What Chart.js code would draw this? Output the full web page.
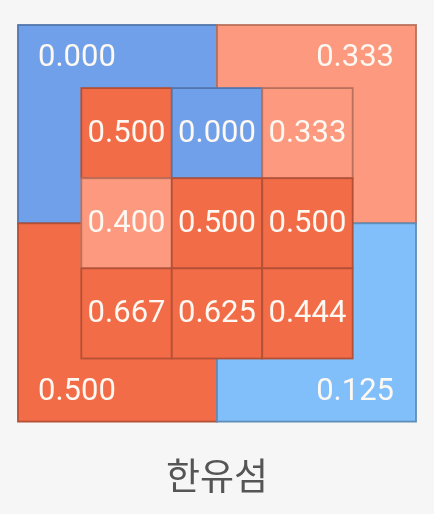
<!DOCTYPE html>
<html>
<head>
<meta charset="utf-8">
<script src="https://cdn.jsdelivr.net/npm/chart.js@4"></script>
<style>
html,body{margin:0;padding:0;background:#f6f6f6;}
#wrap{width:434px;height:514px;position:relative;}
</style>
</head>
<body>
<div id="wrap"><canvas id="c"></canvas></div>
<script>
// ---- data ----
const playerName = "한유섬";
// outer zones: top-left, top-right, bottom-left, bottom-right
const outerLabels = ["TL", "TR", "BL", "BR"];
const outerValues = [0.000, 0.333, 0.500, 0.125];
// inner 3x3 zone rows (top to bottom), columns (left to right)
const innerRow1 = [0.500, 0.000, 0.333];
const innerRow2 = [0.400, 0.500, 0.500];
const innerRow3 = [0.667, 0.625, 0.444];
const innerRows = [innerRow1, innerRow2, innerRow3];

// ---- colour mapping ----
function fillFor(v){
  if (v < 0.1) return [111,160,233];
  if (v < 0.2) return [128,191,250];
  if (v < 0.42) return [252,153,126];
  return [243,108,72];
}
function rgb(c, k){ k = k||1; return `rgb(${Math.round(c[0]*k)},${Math.round(c[1]*k)},${Math.round(c[2]*k)})`; }

// zone geometry in zone units (inner zone spans 0..3)
const OUT_MIN = -0.7, OUT_MAX = 3.7, MID = 1.5;
const outerRects = [
  [OUT_MIN, MID, OUT_MIN, MID],
  [MID, OUT_MAX, OUT_MIN, MID],
  [OUT_MIN, MID, MID, OUT_MAX],
  [MID, OUT_MAX, MID, OUT_MAX]
];

const zonePlugin = {
  id: 'zones',
  beforeDatasetsDraw(chart){
    const {ctx, scales:{x, y}} = chart;
    ctx.save();
    const font = '400 31px Roboto, "Liberation Sans", sans-serif';
    function rect(x0,x1,y0,y1,v){
      const px0 = x.getPixelForValue(x0), px1 = x.getPixelForValue(x1);
      const py0 = y.getPixelForValue(y0), py1 = y.getPixelForValue(y1);
      const c = fillFor(v);
      ctx.fillStyle = rgb(c);
      ctx.fillRect(px0, py0, px1-px0, py1-py0);
      ctx.strokeStyle = rgb(c, 0.74);
      ctx.lineWidth = 1.8;
      ctx.strokeRect(px0, py0, px1-px0, py1-py0);
      return [px0,px1,py0,py1];
    }
    ctx.font = font;
    // outer zones
    const oBoxes = outerRects.map((r,i)=>rect(r[0],r[1],r[2],r[3],outerValues[i]));
    ctx.textBaseline = 'middle';
    oBoxes.forEach((b,i)=>{
      ctx.fillStyle = '#fdf8f2';
      const txt = outerValues[i].toFixed(3);
      const top = i < 2;
      const left = (i % 2) === 0;
      const ty = top ? b[2] + 33 : b[3] - 29;
      if (left){ ctx.textAlign = 'left'; ctx.fillText(txt, b[0] + 20, ty); }
      else { ctx.textAlign = 'right'; ctx.fillText(txt, b[1] - 22, ty); }
    });
    // inner zones
    innerRows.forEach((row, r)=>{
      row.forEach((v, cIdx)=>{
        const b = rect(cIdx, cIdx+1, r, r+1, v);
        ctx.fillStyle = '#fdf8f2';
        ctx.textAlign = 'center';
        ctx.fillText(v.toFixed(3), (b[0]+b[1])/2, (b[2]+b[3])/2 + 1);
      });
    });
    ctx.restore();
  }
};

new Chart(document.getElementById('c'), {
  type: 'scatter',
  data: { datasets: [{ data: [], pointRadius: 0 }] },
  options: {
    responsive: true,
    maintainAspectRatio: false,
    animation: false,
    layout: { padding: { left: 18, right: 18, top: 25, bottom: 0 } },
    scales: {
      x: { type: 'linear', min: OUT_MIN, max: OUT_MAX, display: false },
      y: { type: 'linear', min: OUT_MIN, max: OUT_MAX, reverse: true, display: false }
    },
    plugins: {
      legend: { display: false },
      tooltip: { enabled: false },
      title: {
        display: true,
        position: 'bottom',
        text: playerName,
        color: '#555555',
        font: { family: '"Noto Sans CJK KR", sans-serif', size: 37, weight: 'normal', lineHeight: 1.2 },
        padding: { top: 32, bottom: 16 }
      }
    }
  },
  plugins: [zonePlugin]
});
</script>
</body>
</html>
